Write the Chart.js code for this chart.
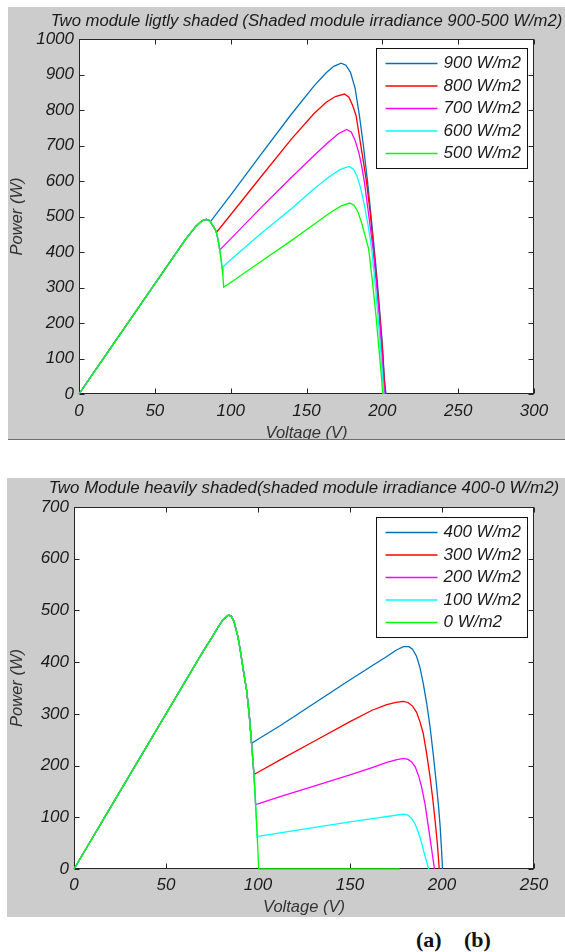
<!DOCTYPE html>
<html>
<head>
<meta charset="utf-8">
<script src="https://cdn.jsdelivr.net/npm/chart.js@4"></script>
<style>
  body { margin: 0; background: #fff; width: 565px; height: 952px; position: relative; overflow: hidden; }
  #topPanel { position: absolute; left: 8px; top: 7px; width: 557px; height: 432px; background: #cccccc; border-bottom: 1px solid #6e6e6e; }
  #bottomPanel { position: absolute; left: 7px; top: 478px; width: 558px; height: 439px; background: #cccccc; }
  canvas { display: block; }
  .cap { position: absolute; top: 927px; line-height: 22px; font: bold 22px "Liberation Serif", "Times New Roman", serif; color: #111; }
</style>
</head>
<body>
<div id="topPanel"><canvas id="topChart" width="557" height="432"></canvas></div>
<div id="bottomPanel"><canvas id="bottomChart" width="558" height="439"></canvas></div>
<span class="cap" style="left:416px">(a)</span>
<span class="cap" style="left:464px">(b)</span>
<script>
// ---- top chart: lightly shaded, 900..500 W/m2 ----
const topTitle = 'Two module ligtly shaded (Shaded module irradiance 900-500 W/m2)';
const topLabels = ['900 W/m2', '800 W/m2', '700 W/m2', '600 W/m2', '500 W/m2'];
const topXTicks = [0, 50, 100, 150, 200, 250, 300];
const topYTicks = [0, 100, 200, 300, 400, 500, 600, 700, 800, 900, 1000];

// shared rising part (unshaded module)
const topRiseV = [0, 10, 20, 30, 40, 50, 60, 70, 74, 77, 80, 82, 84];
const topRiseP = [0, 62, 124, 186, 248, 310, 372, 434, 456, 472, 484, 490, 492];

const top900V = [85.5, 86.6, 100, 120, 140, 155, 163, 168, 172.8, 176, 179, 182, 184.9, 187.5, 190.3, 192.5, 194.7, 196.7, 198.5, 200, 201.3, 202.4];
const top900P = [490, 485, 560, 675, 788, 868, 905, 923, 932, 926, 906, 862, 784, 700, 596, 505, 408, 315, 221, 140, 45, 0];
const top800V = [85.5, 86.6, 88, 89.5, 90.6, 100, 120, 140, 155, 163, 169, 175, 178, 180.5, 182.7, 185, 187.5, 189.6, 192, 194.3, 196.5, 198.3, 200, 201.2, 202];
const top800P = [490, 485, 476, 466, 455, 505, 612, 718, 790, 822, 838, 845, 836, 812, 784, 722, 655, 596, 510, 408, 310, 221, 130, 45, 0];
const top700V = [85.5, 86.6, 88, 89.5, 90.6, 91.8, 92.8, 100, 120, 140, 155, 164, 171, 176.5, 179.5, 182, 184.5, 186.5, 188.2, 191, 193.9, 196, 197.9, 199.6, 200.8, 201.5];
const top700P = [490, 485, 476, 466, 455, 432, 406, 437, 525, 610, 672, 708, 733, 745, 738, 715, 680, 640, 596, 505, 408, 315, 221, 120, 40, 0];
const top600V = [85.5, 86.6, 88, 89.5, 90.6, 91.8, 92.8, 93.6, 94.3, 100, 120, 140, 155, 165, 172, 178, 181, 183.5, 186, 188.5, 190.8, 193, 195.2, 197.1, 198.8, 200.3, 201];
const top600P = [490, 485, 476, 466, 455, 432, 406, 382, 356, 378, 452, 522, 578, 612, 632, 641, 633, 612, 575, 525, 470, 408, 315, 221, 130, 40, 0];
const top500V = [85.5, 86.6, 88, 89.5, 90.6, 91.8, 92.8, 93.6, 94.3, 94.9, 95.4, 100, 120, 140, 155, 166, 173, 178.5, 181.5, 184, 186.5, 189, 191, 193.5, 195.8, 197.7, 199.6, 200.2];
const top500P = [490, 485, 476, 466, 455, 432, 406, 382, 356, 330, 301, 314, 373, 432, 478, 512, 530, 538, 531, 512, 480, 440, 408, 315, 221, 130, 40, 0];

// ---- bottom chart: heavily shaded, 400..0 W/m2 ----
const botTitle = 'Two Module heavily shaded(shaded module irradiance 400-0 W/m2)';
const botLabels = ['400 W/m2', '300 W/m2', '200 W/m2', '100 W/m2', '0 W/m2'];
const botXTicks = [0, 50, 100, 150, 200, 250];
const botYTicks = [0, 100, 200, 300, 400, 500, 600, 700];

const botRiseV = [0, 10, 20, 30, 40, 50, 60, 70, 75, 78, 81, 84];
const botRiseP = [0, 60, 120, 180, 240, 300, 360, 420, 448, 466, 482, 491];

const bot400V = [85.5, 87, 89.1, 90.5, 92, 93.8, 95.2, 96.5, 100, 112, 130, 148, 162, 170, 175, 179, 182, 184, 186.2, 188, 189.8, 191.7, 193.5, 195.3, 197.1, 198.2, 199, 199.7, 200.3];
const bot400P = [489, 478, 449, 420, 385, 346, 300, 243, 251, 277, 319, 361, 393, 411, 423, 430, 430, 425, 411, 390, 359, 320, 275, 220, 159, 118, 82, 40, 0];
const bot300V = [85.5, 87, 89.1, 90.5, 92, 93.8, 95.2, 96.5, 97.8, 100, 112, 130, 150, 162, 170, 175, 179, 181.5, 184, 186.2, 188, 189.8, 191.7, 193.5, 195, 196.2, 197.5, 198.5];
const bot300P = [489, 478, 449, 420, 385, 346, 300, 243, 183, 187, 211, 246, 285, 307, 318, 322, 324, 322, 315, 303, 285, 262, 222, 178, 135, 95, 48, 0];
const bot200V = [85.5, 87, 89.1, 90.5, 92, 93.8, 95.2, 96.5, 97.8, 98.7, 100, 112, 130, 150, 162, 170, 175, 179, 181.5, 183.5, 185.5, 187.3, 188.9, 190.8, 192.6, 194.3, 195.9];
const bot200P = [489, 478, 449, 420, 385, 346, 300, 243, 183, 125, 126, 140, 160, 182, 196, 206, 211, 214, 212, 207, 197, 180, 159, 125, 82, 40, 0];
const bot100V = [85.5, 87, 89.1, 90.5, 92, 93.8, 95.2, 96.5, 97.8, 98.7, 99.6, 100, 112, 130, 150, 165, 173, 179, 181.5, 183.5, 185.5, 187, 188.5, 190, 191.7, 192.8];
const bot100P = [489, 478, 449, 420, 385, 346, 300, 243, 183, 125, 62, 63, 70, 80, 91, 99, 103, 106, 104, 98, 86, 72, 56, 35, 13, 0];
const bot0V = [85.5, 87, 89.1, 90.5, 92, 93.8, 95.2, 96.5, 97.8, 98.7, 99.6, 100.4, 120, 150, 177];
const bot0P = [489, 478, 449, 420, 385, 346, 300, 243, 183, 125, 62, 0, 0, 0, 0];

const lineColors = ['rgb(0,114,189)', 'rgb(255,0,0)', 'rgb(255,0,255)', 'rgb(0,255,255)', 'rgb(0,255,0)'];
const fontFamily = '"Liberation Sans", Arial, sans-serif';
const inkColor = '#1a1a1a';

function pts(v, p) {
    return v.map((x, i) => ({ x: x, y: p[i] }));
}

function makeDatasets(labels, riseV, riseP, seriesV, seriesP) {
    return labels.map((lab, i) => ({
        label: lab,
        data: pts(riseV.concat(seriesV[i]), riseP.concat(seriesP[i])),
        showLine: true,
        borderColor: lineColors[i],
        borderWidth: 1.3,
        pointRadius: 0,
        fill: false,
        tension: 0,
        clip: 5,
        order: labels.length - i // last series drawn on top, like the original
    }));
}

// white plot area, box and inward ticks on all four sides
const axesBox = {
    id: 'axesBox',
    beforeDatasetsDraw(chart) {
        const { ctx, chartArea: a, scales } = chart;
        const L = Math.round(a.left) + 0.5, R = Math.round(a.right) - 0.5;
        const T = Math.round(a.top) + 0.5, B = Math.round(a.bottom) - 0.5;
        ctx.save();
        ctx.fillStyle = '#fff';
        ctx.fillRect(L, T, R - L, B - T);
        ctx.strokeStyle = '#262626';
        ctx.lineWidth = 1;
        ctx.beginPath();
        scales.x.ticks.forEach(t => {
            const x = Math.round(scales.x.getPixelForValue(t.value)) + 0.5;
            ctx.moveTo(x, B); ctx.lineTo(x, B - 5);
            ctx.moveTo(x, T); ctx.lineTo(x, T + 5);
        });
        scales.y.ticks.forEach(t => {
            const y = Math.round(scales.y.getPixelForValue(t.value)) + 0.5;
            ctx.moveTo(L, y); ctx.lineTo(L + 5, y);
            ctx.moveTo(R, y); ctx.lineTo(R - 5, y);
        });
        ctx.stroke();
        ctx.strokeRect(L, T, R - L, B - T);
        ctx.restore();
    }
};

// boxed legend inside the top right corner of the plot
const boxLegend = {
    id: 'boxLegend',
    afterDatasetsDraw(chart, args, opts) {
        const { ctx, chartArea: a } = chart;
        const left = Math.round(a.right - 158) + 0.5;
        const top = Math.round(a.top + opts.top) + 0.5;
        ctx.save();
        ctx.fillStyle = '#fff';
        ctx.fillRect(left, top, 151, 120);
        ctx.strokeStyle = '#111';
        ctx.lineWidth = 1;
        ctx.strokeRect(left, top, 151, 120);
        ctx.font = 'italic 17px ' + fontFamily;
        ctx.textBaseline = 'middle';
        chart.data.datasets.forEach((ds, i) => {
            const y = top + 15 + i * 22.5;
            ctx.strokeStyle = ds.borderColor;
            ctx.lineWidth = 1.3;
            ctx.beginPath();
            ctx.moveTo(left + 9, y);
            ctx.lineTo(left + 61, y);
            ctx.stroke();
            ctx.fillStyle = inkColor;
            ctx.fillText(ds.label, left + 67, y);
        });
        ctx.restore();
    }
};

// chart title centred over the plot area (MATLAB style)
const plotTitle = {
    id: 'plotTitle',
    afterDraw(chart, args, opts) {
        const { ctx, chartArea: a } = chart;
        ctx.save();
        ctx.font = 'italic ' + opts.size + 'px ' + fontFamily;
        ctx.fillStyle = inkColor;
        ctx.textAlign = 'center';
        ctx.textBaseline = 'middle';
        ctx.fillText(opts.text, (a.left + a.right) / 2, opts.y);
        ctx.restore();
    }
};

function makeChart(id, cfg) {
    const tickFont = { family: fontFamily, size: 17, style: 'italic' };
    const axisFont = { family: fontFamily, size: 16.5, style: 'italic' };
    return new Chart(document.getElementById(id), {
        type: 'scatter',
        data: { datasets: cfg.datasets },
        plugins: [axesBox, boxLegend, plotTitle],
        options: {
            responsive: false,
            animation: false,
            devicePixelRatio: 1,
            layout: { padding: { top: cfg.plotTop, right: 31, bottom: 0, left: 0 } },
            plugins: {
                legend: { display: false },
                tooltip: { enabled: false },
                title: { display: false },
                boxLegend: { top: cfg.legendTop },
                plotTitle: { text: cfg.title, size: cfg.titleSize, y: cfg.titleY }
            },
            scales: {
                x: {
                    type: 'linear',
                    min: cfg.xTicks[0],
                    max: cfg.xTicks[cfg.xTicks.length - 1],
                    border: { display: false },
                    grid: { display: false, drawTicks: false },
                    afterBuildTicks: s => { s.ticks = cfg.xTicks.map(v => ({ value: v })); },
                    ticks: { font: tickFont, color: inkColor, padding: cfg.xTickPad, maxRotation: 0, callback: v => String(v) },
                    title: { display: true, text: 'Voltage (V)', color: '#333', font: axisFont, padding: { top: 0, bottom: cfg.xTitlePad } },
                    afterFit: s => { s.height = cfg.xHeight; }
                },
                y: {
                    type: 'linear',
                    min: cfg.yTicks[0],
                    max: cfg.yTicks[cfg.yTicks.length - 1],
                    border: { display: false },
                    grid: { display: false, drawTicks: false },
                    afterBuildTicks: s => { s.ticks = cfg.yTicks.map(v => ({ value: v })); },
                    ticks: { font: tickFont, color: inkColor, padding: 5, callback: v => String(v) },
                    title: { display: true, text: 'Power (W)', color: '#333', font: axisFont, padding: { top: cfg.yTitlePad, bottom: 0 } },
                    afterFit: s => { s.width = cfg.yWidth; }
                }
            }
        }
    });
}

makeChart('topChart', {
    title: topTitle,
    titleSize: 16.7,
    titleY: 14,
    plotTop: 32,
    datasets: makeDatasets(topLabels, topRiseV, topRiseP,
        [top900V, top800V, top700V, top600V, top500V],
        [top900P, top800P, top700P, top600P, top500P]),
    xTicks: topXTicks,
    yTicks: topYTicks,
    xHeight: 45,
    yWidth: 71,
    xTickPad: 6.8,
    xTitlePad: -3.9,
    yTitlePad: 0,
    legendTop: 9
});

makeChart('bottomChart', {
    title: botTitle,
    titleSize: 16.9,
    titleY: 10,
    plotTop: 29,
    datasets: makeDatasets(botLabels, botRiseV, botRiseP,
        [bot400V, bot300V, bot200V, bot100V, bot0V],
        [bot400P, bot300P, bot200P, bot100P, bot0P]),
    xTicks: botXTicks,
    yTicks: botYTicks,
    xHeight: 48,
    yWidth: 67,
    xTickPad: 5.8,
    xTitlePad: 0,
    yTitlePad: 1,
    legendTop: 10
});
</script>
</body>
</html>
